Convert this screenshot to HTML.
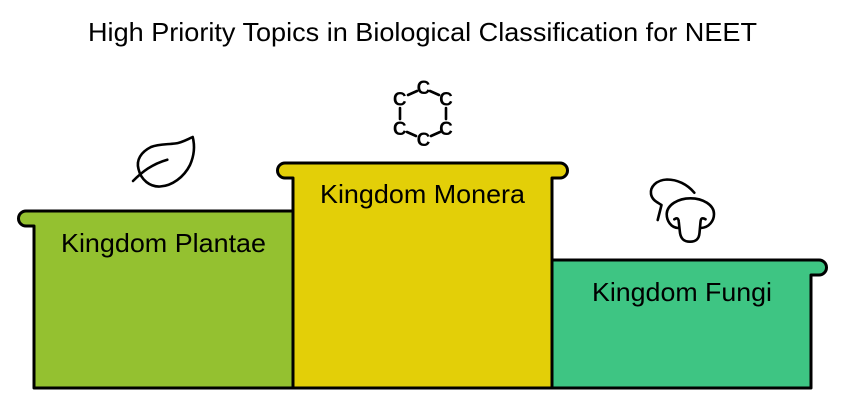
<!DOCTYPE html>
<html><head><meta charset="utf-8"><style>html,body{margin:0;padding:0;background:#fff;width:846px;height:407px;overflow:hidden}svg{display:block}text{font-family:"Liberation Sans",sans-serif;fill:#000}</style></head>
<body><svg width="846" height="407" viewBox="0 0 846 407" xmlns="http://www.w3.org/2000/svg">
<text x="88" y="41" font-size="26" textLength="669" lengthAdjust="spacingAndGlyphs">High Priority Topics in Biological Classification for NEET</text>
<g stroke="#000" stroke-width="3" stroke-linejoin="round">
<path fill="#94c130" d="M293 211H26a7.500 7.500 0 0 0 0 15H34V388H293Z"/>
<path fill="#3ec583" d="M552 260H819a7.500 7.500 0 0 1 0 15H811V388H552Z"/>
<path fill="#e3cf08" d="M285 163H560a7.500 7.500 0 0 1 0 15H552V388H293V178H285a7.500 7.500 0 0 1 0-15Z"/>
</g>
<text x="61" y="252" font-size="26" textLength="205" lengthAdjust="spacingAndGlyphs">Kingdom Plantae</text>
<text x="320" y="203" font-size="26" textLength="205" lengthAdjust="spacingAndGlyphs">Kingdom Monera</text>
<text x="592" y="301" font-size="26" textLength="180" lengthAdjust="spacingAndGlyphs">Kingdom Fungi</text>
<g fill="none" stroke="#000" stroke-width="2.600" stroke-linecap="round" stroke-linejoin="round">
<path d="M192.700 137C186 140 181 143 175 143.500C167 144.500 158 144 151 147C141 152 136 160 138.500 169C141 180 150 187 160 186.500C172 186 184 177 190 165C194 156 195 146 192.700 137Z"/>
<path d="M133 181C142 172 152 164 167.300 159.700"/>
<path d="M694.300 192.700C687 184 677 179.500 667 179.500C656 180 650 187 651 194C652 200 657 202 661.500 205L657.700 220"/>
<path d="M674.300 219.300C677 217.500 678.500 218 678.800 222L680 233C681 239 684 241.700 690 241.700C696 241.700 699 239 699.500 233L700.500 222C700.800 218 702.500 217.500 705.500 219.300"/>
<path d="M678 228C671 227.500 666.700 221 666.700 214C667 205 678 198.300 690.500 198.300C703 198.300 714 205 714 214C714 221 709 227.500 701 228"/>
</g>
<g stroke="#000" stroke-width="2.600" stroke-linecap="round">
<path d="M408 95L417 91M430 91L439 95M400 108V119M446 108V119M407 132L416 136M431 136L440 132"/>
</g>
<g font-size="19" font-weight="bold" text-anchor="middle">
<text x="399.700" y="105.500">C</text><text x="423.500" y="94">C</text><text x="446" y="105.500">C</text>
<text x="399.700" y="135">C</text><text x="423.500" y="146">C</text><text x="446" y="135">C</text>
</g>
</svg></body></html>
